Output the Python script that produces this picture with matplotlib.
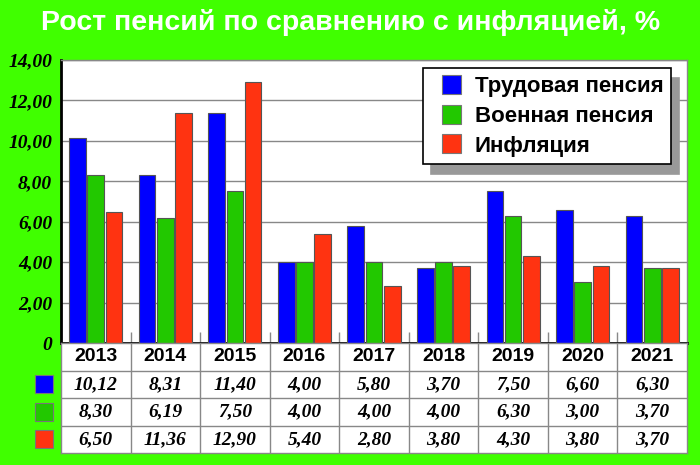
import matplotlib
matplotlib.use('Agg')
import matplotlib.pyplot as plt
from matplotlib.patches import Patch, Rectangle
from matplotlib.legend_handler import HandlerPatch
import numpy as np

years = ['2013', '2014', '2015', '2016', '2017', '2018', '2019', '2020', '2021']
labor = [10.12, 8.31, 11.40, 4.00, 5.80, 3.70, 7.50, 6.60, 6.30]
military = [8.30, 6.19, 7.50, 4.00, 4.00, 4.00, 6.30, 3.00, 3.70]
inflation = [6.50, 11.36, 12.90, 5.40, 2.80, 3.80, 4.30, 3.80, 3.70]
series_names = ['Трудовая пенсия', 'Военная пенсия', 'Инфляция']
yticks = [0, 2, 4, 6, 8, 10, 12, 14]
ytick_labels = ['0', '2,00', '4,00', '6,00', '8,00', '10,00', '12,00', '14,00']
title = 'Рост пенсий по сравнению с инфляцией, %'

BG = '#40FF00'
colors = ['#0000FF', '#22C800', '#FF3311']
series = [labor, military, inflation]

W, H = 700, 465
fig = plt.figure(figsize=(W / 100, H / 100), dpi=100, facecolor=BG)

ax = fig.add_axes([61 / W, (H - 343) / H, 626 / W, 283 / H])
x = np.arange(len(years))
bw, step = 0.24, 0.262
for i, (vals, c) in enumerate(zip(series, colors)):
    ax.bar(x + (i - 1) * step, vals, bw, color=c, edgecolor='#555555',
           linewidth=0.8, zorder=3, label=series_names[i])
ax.set_xlim(-0.5, len(years) - 0.5)
ax.set_ylim(0, 14)
ax.set_yticks(yticks, ytick_labels, fontfamily='Liberation Serif',
              fontweight='bold', fontstyle='italic', fontsize=14)
ax.yaxis.grid(True, color='#888888', lw=1)
ax.set_axisbelow(True)
ax.tick_params(axis='y', length=0, pad=6.5)
ax.set_xticks(np.arange(0.5, len(years) - 1, 1))
ax.tick_params(axis='x', direction='in', length=8, color='#888888',
               width=1, labelbottom=False)
for s in ['left', 'bottom']:
    ax.spines[s].set_color('black')
    ax.spines[s].set_linewidth(2)
for s in ['top', 'right']:
    ax.spines[s].set_color('#888888')
    ax.spines[s].set_linewidth(1)

SQ = 13.7  # legend square size in points


def square(legend, orig_handle, xdescent, ydescent, width, height, fontsize):
    return Rectangle((-xdescent + width - SQ, -ydescent + (height - SQ) / 2),
                     SQ, SQ)


handles = [Patch(facecolor=c, edgecolor='#777777', lw=0.8) for c in colors]
leg = ax.legend(handles, series_names, loc='upper right',
                bbox_to_anchor=(0.9745, 0.972), borderaxespad=0,
                prop={'family': 'Liberation Sans', 'weight': 'bold', 'size': 16},
                handlelength=1.36, handleheight=0.86, handletextpad=0.63,
                labelspacing=0.36, borderpad=0.35, fancybox=False,
                framealpha=1, edgecolor='black',
                handler_map={Patch: HandlerPatch(patch_func=square)},
                shadow={'color': '#999999', 'alpha': 1, 'ox': 6, 'oy': -7})
leg.get_frame().set_linewidth(1.2)

# data table
tax = fig.add_axes([61 / W, (H - 453) / H, 626 / W, 110 / H])
tax.set_xlim(-0.5, len(years) - 0.5)
tax.set_ylim(4, 0)
tax.set_facecolor('white')
tax.set_xticks([])
tax.set_yticks([])
for s in tax.spines.values():
    s.set_color('#888888')
    s.set_linewidth(1)
for k in range(1, len(years)):
    tax.axvline(k - 0.5, color='#888888', lw=1)
for r in range(1, 4):
    tax.axhline(r, color='#888888', lw=1)
for j, yr in enumerate(years):
    tax.text(j, 0.5, yr, ha='center', va='center', fontsize=14,
             fontweight='bold', fontfamily='Liberation Sans')
for r, vals in enumerate(series, start=1):
    for j, v in enumerate(vals):
        tax.text(j, r + 0.5, f'{v:.2f}'.replace('.', ','), ha='center',
                 va='center', fontsize=14, fontweight='bold',
                 fontstyle='italic', fontfamily='Liberation Serif')
    tax.add_patch(Rectangle((-0.874, r + 0.5 - 0.33), 0.26, 0.66,
                            facecolor=colors[r - 1], edgecolor='#777777',
                            lw=0.8, clip_on=False))

fig.text(351 / W, 1 - 23 / H, title, ha='center', va='center', color='white',
         fontsize=20.5, fontweight='bold', fontfamily='Liberation Sans')

fig.savefig('out.png', dpi=100, facecolor=BG)
